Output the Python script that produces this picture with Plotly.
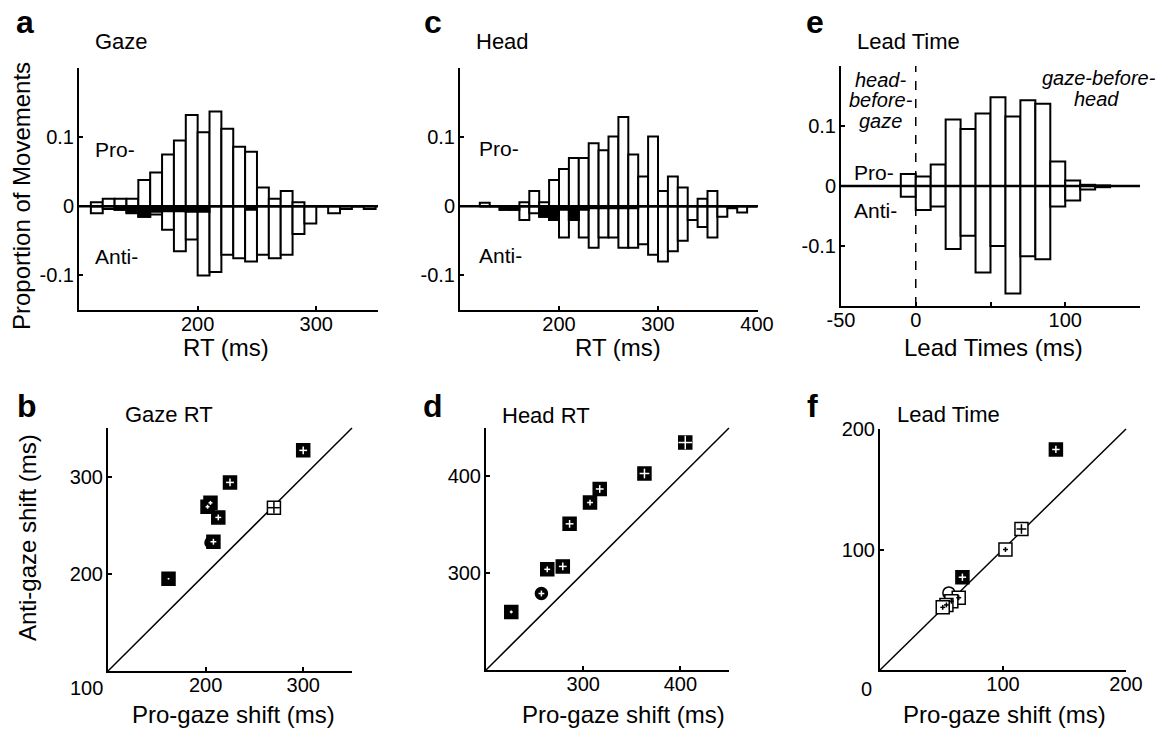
import plotly.graph_objects as go

# ---------------- data ----------------
# top row: histograms, 10 ms bins given by their left edge
gaze_bins = list(range(110, 350, 10))
gaze_pro = [0.006, 0.011, 0.011, 0.011, 0.038, 0.049, 0.075, 0.095, 0.132, 0.107, 0.137, 0.112,
            0.086, 0.079, 0.027, 0.011, 0.022, 0.006, 0, 0, 0, 0, 0, 0]
gaze_anti = [-0.010, -0.004, -0.005, -0.010, -0.015, -0.012, -0.034, -0.065, -0.048, -0.100, -0.095, -0.070,
             -0.075, -0.080, -0.070, -0.075, -0.070, -0.040, -0.025, 0, -0.010, -0.004, 0, -0.004]
gaze_err = [0, 0, -0.005, -0.009, -0.015, -0.008, -0.007, -0.007, -0.008, -0.008, 0, 0,
            0, -0.005, 0, 0, 0, 0, 0, 0, 0, 0, 0, 0]

head_bins = list(range(120, 400, 10))
head_pro = [0.005, 0, 0, 0, 0.006, 0.022, 0.006, 0.038, 0.054, 0.070, 0.070, 0.091, 0.081, 0.101,
            0.129, 0.075, 0.043, 0.101, 0.022, 0.043, 0.027, 0, 0.011, 0.022, 0, 0, 0, 0]
head_anti = [0, 0, -0.005, -0.005, -0.020, -0.010, -0.015, -0.020, -0.045, -0.020, -0.045, -0.060, -0.045, -0.045,
             -0.060, -0.060, -0.055, -0.070, -0.080, -0.065, -0.050, -0.020, -0.030, -0.045, -0.015, -0.003, -0.009, 0]
head_err = [0, 0, -0.005, -0.005, 0, 0, -0.015, -0.020, -0.005, -0.020, -0.005, -0.003, -0.003, -0.003,
            -0.003, -0.003, 0, 0, 0, 0, 0, 0, 0, 0, 0, 0, 0, 0]

lead_bins = list(range(-10, 130, 10))
lead_pro = [0.020, 0.016, 0.036, 0.111, 0.095, 0.121, 0.148, 0.116, 0.143, 0.137, 0.041, 0.009, 0.002, 0.001]
lead_anti = [-0.018, -0.040, -0.034, -0.105, -0.083, -0.144, -0.100, -0.179, -0.117, -0.122, -0.034, -0.024, -0.006, -0.002]
LEAD_SPLIT = 0

# bottom row: subject means (pro vs anti), half-length of the +/- cross
gazert_fill_pro = [162, 225, 300, 213, 205, 202, 208]
gazert_fill_anti = [195, 294, 327, 258, 273, 269, 233]
gazert_fill_sd = [0.7, 4, 4, 3, 2, 2, 3]
gazert_open_pro = [270]
gazert_open_anti = [268]
gazert_open_sd = [6]
gazert_circ_pro = [205]
gazert_circ_anti = [232]

headrt_fill_pro = [226, 263, 279, 286, 307, 317, 363, 405]
headrt_fill_anti = [260, 304, 307, 351, 373, 387, 403, 435]
headrt_fill_sd = [1.5, 3, 4, 4, 3, 4, 5, 7]
headrt_circ_pro = [257]
headrt_circ_anti = [279]
headrt_circ_sd = [3]

lt_fill_pro = [143, 67]
lt_fill_anti = [183, 77]
lt_fill_sd = [3, 3]
lt_open_pro = [115, 102, 64, 58, 54, 51]
lt_open_anti = [117, 100, 60, 57, 54, 52]
lt_open_sd = [4, 2, 2, 2, 2, 2]
lt_circ_pro = [56]
lt_circ_anti = [64]

# ---------------- layout helpers ----------------
W, H = 1159, 729
FONT = "Liberation Sans, Arial, sans-serif"


def fx(px):
    return px / W


def fy(py):
    return 1 - py / H


# pixel boxes of the six panels: (left, top, right, bottom)
boxes = {
    "": (79, 68, 378, 310),      # a
    "2": (460, 68, 758, 310),    # c
    "3": (841, 66, 1140, 306),   # e
    "4": (108, 428, 352, 671),   # b
    "5": (486, 428, 729, 670),   # d
    "6": (880, 429, 1126, 670),  # f
}


def axis(box, is_x, rng, tickvals, ticktext, anchor):
    l, t, r, b = box
    dom = [fx(l), fx(r)] if is_x else [fy(b), fy(t)]
    return dict(domain=dom, range=rng, tickvals=tickvals, ticktext=ticktext, anchor=anchor,
                showline=True, linecolor="black", linewidth=2, ticks="inside", ticklen=4,
                tickwidth=1.5, tickcolor="black", showgrid=False, zeroline=False, automargin=False,
                ticklabelstandoff=-5 if is_x else -1,
                tickfont=dict(size=20, color="black", family=FONT), fixedrange=True)


fig = go.Figure()


def add_hist(sfx, bins, pro, anti, err=None):
    xa, ya = "x" + sfx, "y" + sfx
    for vals, col in [(pro, "white"), (anti, "white")] + ([(err, "black")] if err else []):
        fig.add_trace(go.Bar(x=bins, y=vals, width=10, offset=0, xaxis=xa, yaxis=ya,
                             marker=dict(color=col, line=dict(color="black", width=2))))
    fig.add_shape(type="line", xref=xa + " domain", x0=0, x1=1, yref=ya, y0=0, y1=0,
                  line=dict(color="black", width=2.5), layer="above")


add_hist("", gaze_bins, gaze_pro, gaze_anti, gaze_err)
add_hist("2", head_bins, head_pro, head_anti, head_err)
add_hist("3", lead_bins, lead_pro, lead_anti)
fig.add_shape(type="line", xref="x3", x0=LEAD_SPLIT, x1=LEAD_SPLIT, yref="y3 domain", y0=0, y1=1,
              line=dict(color="black", width=1.5, dash="dash"), layer="above")


def add_points(sfx, xs, ys, sd, symbol, fill, size=12):
    xa, ya = "x" + sfx, "y" + sfx
    fig.add_trace(go.Scatter(x=xs, y=ys, mode="markers", xaxis=xa, yaxis=ya,
                             marker=dict(symbol=symbol, size=size, color=fill,
                                         line=dict(color="black", width=1.5))))
    if sd:
        cross = "white" if fill == "black" else "black"
        fig.add_trace(go.Scatter(x=xs, y=ys, mode="markers", xaxis=xa, yaxis=ya,
                                 marker=dict(size=1, color="rgba(0,0,0,0)"),
                                 error_x=dict(type="data", array=sd, color=cross, thickness=1.5, width=0),
                                 error_y=dict(type="data", array=sd, color=cross, thickness=1.5, width=0)))


for sfx in ["4", "5", "6"]:
    fig.add_shape(type="line", xref="x%s domain" % sfx, yref="y%s domain" % sfx,
                  x0=0, y0=0, x1=1, y1=1, line=dict(color="black", width=1.5), layer="below")

add_points("4", gazert_open_pro, gazert_open_anti, gazert_open_sd, "square", "white", 13)
add_points("4", gazert_circ_pro, gazert_circ_anti, None, "circle", "black", 11)
add_points("4", gazert_fill_pro, gazert_fill_anti, gazert_fill_sd, "square", "black", 13)

add_points("5", headrt_circ_pro, headrt_circ_anti, headrt_circ_sd, "circle", "black", 12)
add_points("5", headrt_fill_pro, headrt_fill_anti, headrt_fill_sd, "square", "black", 13)

add_points("6", lt_circ_pro, lt_circ_anti, None, "circle", "white", 12)
add_points("6", lt_open_pro, lt_open_anti, lt_open_sd, "square", "white", 13)
add_points("6", lt_fill_pro, lt_fill_anti, lt_fill_sd, "square", "black", 13)

hist_y = [-0.1, 0, 0.1]
hist_y_txt = ["-0.1", "0", "0.1"]

layout = dict(
    xaxis=axis(boxes[""], True, [100, 352], [200, 300], ["200", "300"], "y"),
    yaxis=axis(boxes[""], False, [-0.15, 0.2], hist_y, hist_y_txt, "x"),
    xaxis2=axis(boxes["2"], True, [100, 401], [200, 300, 400], ["200", "300", "400"], "y2"),
    yaxis2=axis(boxes["2"], False, [-0.15, 0.2], hist_y, hist_y_txt, "x2"),
    xaxis3=axis(boxes["3"], True, [-50, 150], [-50, 0, 50, 100], ["-50", "0", "", "100"], "y3"),
    yaxis3=axis(boxes["3"], False, [-0.2, 0.2], hist_y, hist_y_txt, "x3"),
    xaxis4=axis(boxes["4"], True, [100, 350], [200, 300], ["200", "300"], "y4"),
    yaxis4=axis(boxes["4"], False, [100, 350], [200, 300], ["200", "300"], "x4"),
    xaxis5=axis(boxes["5"], True, [200, 450], [300, 400], ["300", "400"], "y5"),
    yaxis5=axis(boxes["5"], False, [200, 450], [300, 400], ["300", "400"], "x5"),
    xaxis6=axis(boxes["6"], True, [0, 200], [100, 200], ["100", "200"], "y6"),
    yaxis6=axis(boxes["6"], False, [0, 200], [100, 200], ["100", "200"], "x6"),
)

annots = []


def txt(s, x, y, size, xanchor="center", bold=False, italic=False, angle=0):
    if bold:
        s = "<b>%s</b>" % s
    if italic:
        s = "<i>%s</i>" % s
    annots.append(dict(text=s, x=fx(x), y=fy(y), xref="paper", yref="paper", showarrow=False,
                       xanchor=xanchor, yanchor="middle", textangle=angle,
                       font=dict(size=size, color="black", family=FONT)))


# panel letters
for s, x, y in [("a", 25, 22), ("c", 433, 22), ("e", 815, 22), ("b", 27, 406), ("d", 433, 406), ("f", 812, 406)]:
    txt(s, x, y, 32, bold=True)

# panel titles
for s, x, y in [("Gaze", 93, 42), ("Head", 474, 42), ("Lead Time", 855, 42),
                ("Gaze RT", 123, 414), ("Head RT", 500, 415), ("Lead Time", 895, 414)]:
    txt(s, x, y, 22, xanchor="left")

# Pro-/Anti- labels
for s, x, y in [("Pro-", 93, 149), ("Anti-", 93, 256), ("Pro-", 477, 148), ("Anti-", 477, 255),
                ("Pro-", 852, 172), ("Anti-", 852, 210)]:
    txt(s, x, y, 21, xanchor="left")

# lead-time side notes
for s, x, y in [("head-", 880, 80), ("before-", 881, 100), ("gaze", 880, 121),
                ("gaze-before-", 1099, 78), ("head", 1096, 99)]:
    txt(s, x, y, 20, italic=True)

# axis titles
txt("Proportion of Movements", 22, 196, 24, angle=-90)
txt("RT (ms)", 226, 347, 24)
txt("RT (ms)", 618, 347, 24)
txt("Lead Times (ms)", 993, 347, 24)
txt("Anti-gaze shift (ms)", 27, 538, 24, angle=-90)
txt("Pro-gaze shift (ms)", 233, 714, 24)
txt("Pro-gaze shift (ms)", 623, 714, 24)
txt("Pro-gaze shift (ms)", 1004, 714, 24)

# origin labels of the scatter panels
txt("100", 86, 688, 20)
txt("0", 866, 689, 20)

fig.update_layout(**layout)
fig.update_layout(
    template="none",
    width=W, height=H, margin=dict(l=0, r=0, t=0, b=0, pad=0),
    paper_bgcolor="white", plot_bgcolor="white",
    showlegend=False, barmode="overlay", annotations=annots,
    font=dict(family=FONT, color="black"),
)

# drop the default 8px page margin so the figure fills the window exactly
fig.write_html("out.html", config={"displayModeBar": False},
               post_script="document.body.style.margin = '0px';")
